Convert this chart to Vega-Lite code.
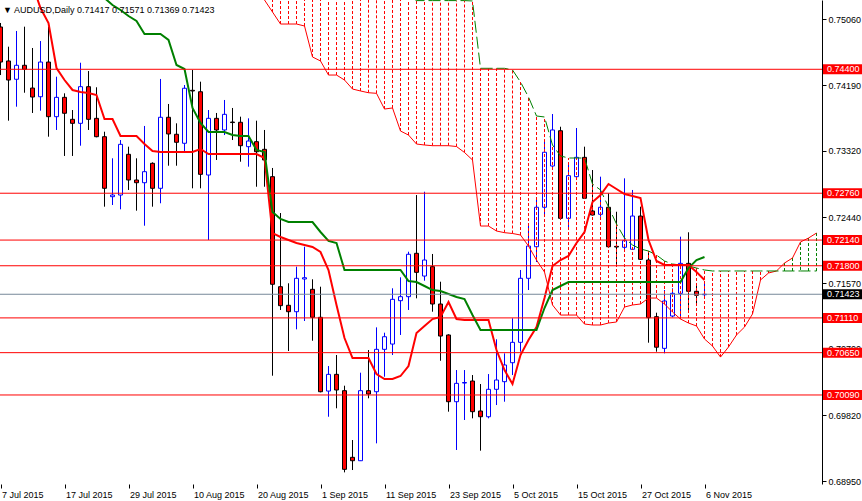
{
"$schema":"https://vega.github.io/schema/vega-lite/v6.json",
"width":822,"height":484,"autosize":"none",
"padding":{"left":0,"top":0,"right":40,"bottom":17},
"background":"#ffffff",
"title":{"text":"▼  AUDUSD,Daily  0.71417 0.71571 0.71369 0.71423","anchor":"start","frame":"group","orient":"top","offset":-22,"baseline":"alphabetic","font":"Liberation Sans","fontSize":9,"fontWeight":"normal","color":"#000000","dx":3},
"config":{"view":{"stroke":null},"axis":{"grid":false,"labelFont":"Liberation Sans","labelFontSize":9,"labelColor":"#000000","tickColor":"#000000","domainColor":"#000000","tickWidth":1,"domainWidth":1}},
"datasets":{
"bars":[
{"d":"2015-07-07","o":0.7496,"h":0.75013,"l":0.74324,"c":0.74496,"t":0.76111,"k":0.75648,"a":0.756,"b":0.75714},
{"d":"2015-07-08","o":0.7451,"h":0.74699,"l":0.7372,"c":0.74258,"t":0.75979,"k":0.75648,"a":0.756,"b":0.75714},
{"d":"2015-07-09","o":0.74268,"h":0.74907,"l":0.73905,"c":0.74453,"t":0.75846,"k":0.75648,"a":0.756,"b":0.75714},
{"d":"2015-07-10","o":0.74453,"h":0.74964,"l":0.7409,"c":0.744,"t":0.75714,"k":0.75648,"a":0.756,"b":0.75714},
{"d":"2015-07-13","o":0.74152,"h":0.74682,"l":0.73822,"c":0.74033,"t":0.75516,"k":0.75648,"a":0.756,"b":0.75714},
{"d":"2015-07-14","o":0.74037,"h":0.74774,"l":0.73852,"c":0.74496,"t":0.75211,"k":0.75648,"a":0.756,"b":0.75714},
{"d":"2015-07-15","o":0.74496,"h":0.74964,"l":0.73508,"c":0.73773,"t":0.75013,"k":0.75648,"a":0.756,"b":0.75714},
{"d":"2015-07-16","o":0.73773,"h":0.74302,"l":0.73597,"c":0.74029,"t":0.74417,"k":0.75648,"a":0.756,"b":0.75714},
{"d":"2015-07-17","o":0.74029,"h":0.74082,"l":0.73253,"c":0.73818,"t":0.74258,"k":0.75648,"a":0.756,"b":0.75714},
{"d":"2015-07-20","o":0.73738,"h":0.73861,"l":0.73253,"c":0.73685,"t":0.74126,"k":0.75648,"a":0.756,"b":0.75714},
{"d":"2015-07-21","o":0.73685,"h":0.74487,"l":0.73389,"c":0.7417,"t":0.74099,"k":0.75582,"a":0.756,"b":0.75714},
{"d":"2015-07-22","o":0.7417,"h":0.74377,"l":0.73597,"c":0.73738,"t":0.74086,"k":0.75502,"a":0.756,"b":0.75714},
{"d":"2015-07-23","o":0.73751,"h":0.74162,"l":0.735,"c":0.73508,"t":0.7406,"k":0.75423,"a":0.756,"b":0.75714},
{"d":"2015-07-24","o":0.73508,"h":0.73574,"l":0.72582,"c":0.72825,"t":0.73742,"k":0.75343,"a":0.756,"b":0.75714},
{"d":"2015-07-27","o":0.72714,"h":0.73222,"l":0.72604,"c":0.72736,"t":0.73742,"k":0.75251,"a":0.756,"b":0.75714},
{"d":"2015-07-28","o":0.72736,"h":0.73464,"l":0.72547,"c":0.73407,"t":0.73517,"k":0.75185,"a":0.756,"b":0.75714},
{"d":"2015-07-29","o":0.73275,"h":0.73376,"l":0.72803,"c":0.72935,"t":0.73517,"k":0.75105,"a":0.756,"b":0.75714},
{"d":"2015-07-30","o":0.72935,"h":0.73222,"l":0.72529,"c":0.72899,"t":0.73517,"k":0.75039,"a":0.756,"b":0.75714},
{"d":"2015-07-31","o":0.72899,"h":0.7365,"l":0.7233,"c":0.73045,"t":0.73411,"k":0.74867,"a":0.756,"b":0.75714},
{"d":"2015-08-03","o":0.73156,"h":0.73169,"l":0.72582,"c":0.72825,"t":0.73319,"k":0.74867,"a":0.756,"b":0.75714},
{"d":"2015-08-04","o":0.72825,"h":0.74272,"l":0.72627,"c":0.73765,"t":0.73305,"k":0.74867,"a":0.756,"b":0.75714},
{"d":"2015-08-05","o":0.73765,"h":0.73941,"l":0.73124,"c":0.73544,"t":0.73305,"k":0.74788,"a":0.756,"b":0.75714},
{"d":"2015-08-06","o":0.7354,"h":0.73685,"l":0.73124,"c":0.73434,"t":0.73305,"k":0.74457,"a":0.756,"b":0.75714},
{"d":"2015-08-07","o":0.73421,"h":0.74192,"l":0.73319,"c":0.74149,"t":0.73305,"k":0.74404,"a":0.756,"b":0.75714},
{"d":"2015-08-10","o":0.74122,"h":0.74391,"l":0.72825,"c":0.74113,"t":0.73305,"k":0.73888,"a":0.756,"b":0.75714},
{"d":"2015-08-11","o":0.74103,"h":0.74236,"l":0.72825,"c":0.7301,"t":0.73345,"k":0.73689,"a":0.756,"b":0.75714},
{"d":"2015-08-12","o":0.73001,"h":0.73861,"l":0.72141,"c":0.73751,"t":0.73279,"k":0.7357,"a":0.756,"b":0.75714},
{"d":"2015-08-13","o":0.73751,"h":0.73822,"l":0.732,"c":0.73597,"t":0.73279,"k":0.7357,"a":0.756,"b":0.75714},
{"d":"2015-08-14","o":0.73597,"h":0.73994,"l":0.7353,"c":0.73804,"t":0.73279,"k":0.7357,"a":0.756,"b":0.75714},
{"d":"2015-08-17","o":0.73702,"h":0.73888,"l":0.73464,"c":0.73695,"t":0.73279,"k":0.7353,"a":0.756,"b":0.75714},
{"d":"2015-08-18","o":0.73699,"h":0.73773,"l":0.73177,"c":0.73389,"t":0.73279,"k":0.73517,"a":0.756,"b":0.75714},
{"d":"2015-08-19","o":0.73376,"h":0.73751,"l":0.73111,"c":0.73451,"t":0.73279,"k":0.73517,"a":0.756,"b":0.75714},
{"d":"2015-08-20","o":0.73442,"h":0.7372,"l":0.72846,"c":0.73309,"t":0.73279,"k":0.73332,"a":0.75476,"b":0.75714},
{"d":"2015-08-21","o":0.73341,"h":0.73597,"l":0.72846,"c":0.732,"t":0.73226,"k":0.73305,"a":0.75317,"b":0.75714},
{"d":"2015-08-24","o":0.72979,"h":0.73094,"l":0.70345,"c":0.71555,"t":0.72233,"k":0.72511,"a":0.75158,"b":0.75714},
{"d":"2015-08-25","o":0.71523,"h":0.72498,"l":0.71215,"c":0.71272,"t":0.72181,"k":0.72419,"a":0.74999,"b":0.75714},
{"d":"2015-08-26","o":0.71277,"h":0.71568,"l":0.70672,"c":0.71192,"t":0.72141,"k":0.72379,"a":0.74999,"b":0.75714},
{"d":"2015-08-27","o":0.71192,"h":0.71788,"l":0.70959,"c":0.71634,"t":0.72101,"k":0.72379,"a":0.74999,"b":0.75714},
{"d":"2015-08-28","o":0.71625,"h":0.72052,"l":0.71069,"c":0.71642,"t":0.72075,"k":0.72379,"a":0.74973,"b":0.75714},
{"d":"2015-08-31","o":0.71488,"h":0.71621,"l":0.70808,"c":0.71118,"t":0.72048,"k":0.72379,"a":0.74563,"b":0.75714},
{"d":"2015-09-01","o":0.71118,"h":0.71523,"l":0.70125,"c":0.70133,"t":0.71982,"k":0.72247,"a":0.7451,"b":0.75714},
{"d":"2015-09-02","o":0.70142,"h":0.70473,"l":0.69802,"c":0.70363,"t":0.71744,"k":0.72128,"a":0.74324,"b":0.75714},
{"d":"2015-09-03","o":0.70363,"h":0.70619,"l":0.69914,"c":0.70156,"t":0.71281,"k":0.72101,"a":0.74324,"b":0.75714},
{"d":"2015-09-04","o":0.70147,"h":0.70213,"l":0.69066,"c":0.69106,"t":0.70844,"k":0.71744,"a":0.74258,"b":0.75714},
{"d":"2015-09-07","o":0.69265,"h":0.69494,"l":0.69097,"c":0.6922,"t":0.70579,"k":0.71744,"a":0.74139,"b":0.75714},
{"d":"2015-09-08","o":0.6922,"h":0.70385,"l":0.69216,"c":0.70147,"t":0.70579,"k":0.71744,"a":0.74113,"b":0.75714},
{"d":"2015-09-09","o":0.70147,"h":0.70685,"l":0.70046,"c":0.70103,"t":0.70579,"k":0.71744,"a":0.7409,"b":0.75714},
{"d":"2015-09-10","o":0.70133,"h":0.70985,"l":0.6945,"c":0.70694,"t":0.70367,"k":0.71744,"a":0.74082,"b":0.75714},
{"d":"2015-09-11","o":0.70694,"h":0.70914,"l":0.70332,"c":0.70861,"t":0.70301,"k":0.71744,"a":0.73874,"b":0.75714},
{"d":"2015-09-14","o":0.70764,"h":0.71502,"l":0.70619,"c":0.71356,"t":0.70301,"k":0.71744,"a":0.73888,"b":0.75714},
{"d":"2015-09-15","o":0.71338,"h":0.71647,"l":0.70884,"c":0.71391,"t":0.70341,"k":0.71744,"a":0.73583,"b":0.75714},
{"d":"2015-09-16","o":0.71391,"h":0.71986,"l":0.71215,"c":0.71952,"t":0.70473,"k":0.71598,"a":0.7353,"b":0.75383},
{"d":"2015-09-17","o":0.71965,"h":0.72736,"l":0.71369,"c":0.71713,"t":0.7091,"k":0.71585,"a":0.73411,"b":0.75309},
{"d":"2015-09-18","o":0.71664,"h":0.7278,"l":0.71602,"c":0.71876,"t":0.71003,"k":0.71532,"a":0.73398,"b":0.75309},
{"d":"2015-09-21","o":0.71788,"h":0.71956,"l":0.71192,"c":0.71294,"t":0.71095,"k":0.71479,"a":0.73389,"b":0.75309},
{"d":"2015-09-22","o":0.71294,"h":0.71589,"l":0.70543,"c":0.7087,"t":0.71122,"k":0.71466,"a":0.73389,"b":0.75309},
{"d":"2015-09-23","o":0.70884,"h":0.70893,"l":0.69869,"c":0.70001,"t":0.7132,"k":0.71426,"a":0.73389,"b":0.75309},
{"d":"2015-09-24","o":0.70001,"h":0.7042,"l":0.69362,"c":0.70244,"t":0.71095,"k":0.71386,"a":0.73378,"b":0.75309},
{"d":"2015-09-25","o":0.70248,"h":0.7042,"l":0.69759,"c":0.70255,"t":0.71082,"k":0.7136,"a":0.73299,"b":0.75309},
{"d":"2015-09-28","o":0.70275,"h":0.70354,"l":0.69781,"c":0.69869,"t":0.71082,"k":0.71148,"a":0.732,"b":0.75304},
{"d":"2015-09-29","o":0.69878,"h":0.70235,"l":0.69353,"c":0.69802,"t":0.71082,"k":0.7095,"a":0.72326,"b":0.74413},
{"d":"2015-09-30","o":0.69802,"h":0.70367,"l":0.69781,"c":0.70165,"t":0.71082,"k":0.7095,"a":0.72326,"b":0.74413},
{"d":"2015-10-01","o":0.70165,"h":0.70827,"l":0.69957,"c":0.70288,"t":0.70685,"k":0.7095,"a":0.7226,"b":0.74413},
{"d":"2015-10-02","o":0.70266,"h":0.70641,"l":0.70001,"c":0.70487,"t":0.7042,"k":0.7095,"a":0.72238,"b":0.74413},
{"d":"2015-10-05","o":0.70517,"h":0.71105,"l":0.70354,"c":0.70787,"t":0.70235,"k":0.7095,"a":0.72227,"b":0.74391},
{"d":"2015-10-06","o":0.70787,"h":0.71744,"l":0.70663,"c":0.71634,"t":0.70619,"k":0.7095,"a":0.72207,"b":0.74232},
{"d":"2015-10-07","o":0.71634,"h":0.72362,"l":0.71479,"c":0.72061,"t":0.70817,"k":0.7095,"a":0.72061,"b":0.74033},
{"d":"2015-10-08","o":0.72052,"h":0.72679,"l":0.7185,"c":0.72574,"t":0.70989,"k":0.7095,"a":0.71876,"b":0.73782},
{"d":"2015-10-09","o":0.72574,"h":0.73442,"l":0.72472,"c":0.73302,"t":0.71373,"k":0.71241,"a":0.71717,"b":0.73769},
{"d":"2015-10-12","o":0.7312,"h":0.73808,"l":0.73067,"c":0.73597,"t":0.71797,"k":0.71479,"a":0.71281,"b":0.73398},
{"d":"2015-10-13","o":0.73587,"h":0.7364,"l":0.72406,"c":0.72428,"t":0.71876,"k":0.71532,"a":0.71148,"b":0.73253},
{"d":"2015-10-14","o":0.72428,"h":0.73156,"l":0.72273,"c":0.72992,"t":0.71929,"k":0.71585,"a":0.71148,"b":0.73226},
{"d":"2015-10-15","o":0.72979,"h":0.73623,"l":0.72935,"c":0.73235,"t":0.72101,"k":0.71585,"a":0.71148,"b":0.73226},
{"d":"2015-10-16","o":0.73235,"h":0.73376,"l":0.72683,"c":0.72693,"t":0.72247,"k":0.71585,"a":0.71029,"b":0.73226},
{"d":"2015-10-19","o":0.72525,"h":0.73067,"l":0.72465,"c":0.72472,"t":0.72644,"k":0.71585,"a":0.71016,"b":0.72882},
{"d":"2015-10-20","o":0.72481,"h":0.72979,"l":0.72449,"c":0.72574,"t":0.72736,"k":0.71585,"a":0.71016,"b":0.72803},
{"d":"2015-10-21","o":0.72574,"h":0.72759,"l":0.72048,"c":0.72052,"t":0.72882,"k":0.71585,"a":0.71042,"b":0.72578},
{"d":"2015-10-22","o":0.72057,"h":0.72515,"l":0.7181,"c":0.72048,"t":0.72816,"k":0.71585,"a":0.71056,"b":0.72353},
{"d":"2015-10-23","o":0.72044,"h":0.72957,"l":0.71986,"c":0.72132,"t":0.7275,"k":0.71585,"a":0.71254,"b":0.72167},
{"d":"2015-10-26","o":0.72018,"h":0.72803,"l":0.72009,"c":0.72458,"t":0.72723,"k":0.71585,"a":0.71281,"b":0.72075},
{"d":"2015-10-27","o":0.72458,"h":0.72582,"l":0.71876,"c":0.71885,"t":0.72697,"k":0.71585,"a":0.71294,"b":0.72022},
{"d":"2015-10-28","o":0.71876,"h":0.71982,"l":0.70782,"c":0.71113,"t":0.72141,"k":0.71585,"a":0.71373,"b":0.71995},
{"d":"2015-10-29","o":0.71126,"h":0.71179,"l":0.70663,"c":0.70722,"t":0.71863,"k":0.71585,"a":0.71373,"b":0.71942},
{"d":"2015-10-30","o":0.70707,"h":0.71479,"l":0.70641,"c":0.71334,"t":0.7181,"k":0.71585,"a":0.71294,"b":0.71863},
{"d":"2015-11-02","o":0.71135,"h":0.71502,"l":0.71118,"c":0.71435,"t":0.7181,"k":0.71585,"a":0.71188,"b":0.71823},
{"d":"2015-11-03","o":0.71435,"h":0.72185,"l":0.71105,"c":0.71832,"t":0.7181,"k":0.71585,"a":0.71095,"b":0.7181},
{"d":"2015-11-04","o":0.71832,"h":0.72243,"l":0.71215,"c":0.71462,"t":0.7181,"k":0.7177,"a":0.71042,"b":0.71797},
{"d":"2015-11-05","o":0.71462,"h":0.71572,"l":0.71307,"c":0.7141,"t":0.71717,"k":0.71876,"a":0.71003,"b":0.7177},
{"d":"2015-11-06","o":0.71417,"h":0.71571,"l":0.71369,"c":0.71423,"t":0.71612,"k":0.71916,"a":0.70831,"b":0.71744},
{"d":"2015-11-09","a":0.70738,"b":0.71731},
{"d":"2015-11-10","a":0.70592,"b":0.71731},
{"d":"2015-11-11","a":0.70725,"b":0.71731},
{"d":"2015-11-12","a":0.70884,"b":0.71731},
{"d":"2015-11-13","a":0.70989,"b":0.71731},
{"d":"2015-11-16","a":0.71162,"b":0.71731},
{"d":"2015-11-17","a":0.71612,"b":0.71731},
{"d":"2015-11-18","a":0.71704,"b":0.71731},
{"d":"2015-11-19","a":0.71731,"b":0.71731},
{"d":"2015-11-20","a":0.71836,"b":0.71731},
{"d":"2015-11-23","a":0.71903,"b":0.71731},
{"d":"2015-11-24","a":0.72115,"b":0.71731},
{"d":"2015-11-25","a":0.72167,"b":0.71731},
{"d":"2015-11-26","a":0.72233,"b":0.71731}
],
"levels":[
{"p":0.744,"kind":"level"},{"p":0.7276,"kind":"level"},{"p":0.7214,"kind":"level"},{"p":0.718,"kind":"level"},{"p":0.7111,"kind":"level"},{"p":0.7065,"kind":"level"},{"p":0.7009,"kind":"level"},{"p":0.71423,"kind":"current"}
]
},
"layer":[
{"data":{"name":"bars"},"transform":[{"filter":"isValid(datum.o)"}],
 "mark":{"type":"rule","clip":true,"strokeWidth":1},
 "encoding":{
  "x":{"field":"d","type":"ordinal","title":null,"scale":{"type":"point","range":[0.5,816.5],"padding":0},"axis":{"values":["2015-07-07","2015-07-17","2015-07-29","2015-08-10","2015-08-20","2015-09-01","2015-09-11","2015-09-23","2015-10-05","2015-10-15","2015-10-27","2015-11-06"],"labelExpr":"utcFormat(toDate(datum.value), '%-d %b %Y')","labelAlign":"left","labelBaseline":"top","labelPadding":2,"labelOffset":1,"labelAngle":0,"tickSize":4,"domain":false,"labelFlush":false,"labelOverlap":false}},
  "y":{"field":"l","type":"quantitative","title":null,"scale":{"domain":[0.68912,0.75317],"nice":false,"zero":false},"axis":{"orient":"right","values":[0.7506,0.7463,0.7419,0.7375,0.7332,0.7288,0.7244,0.7201,0.7157,0.7113,0.707,0.7026,0.6982,0.6939,0.6895],"format":".5f","tickSize":4,"labelPadding":2,"labelFlush":false,"labelOverlap":false}},
  "y2":{"field":"h"},
  "color":{"condition":{"test":"datum.c >= datum.o","value":"#0000FF"},"value":"#000000"}}},
{"data":{"name":"bars"},"transform":[{"filter":"isValid(datum.o)"}],
 "mark":{"type":"bar","clip":true,"width":4,"strokeWidth":1},
 "encoding":{
  "x":{"field":"d","type":"ordinal","title":null,"scale":{"type":"point","range":[0.5,816.5],"padding":0}},
  "y":{"field":"o","type":"quantitative","title":null,"scale":{"domain":[0.68912,0.75317],"nice":false,"zero":false}},
  "y2":{"field":"c"},
  "fill":{"condition":{"test":"datum.c >= datum.o","value":"#FFFFFF"},"value":"#FF0000"},
  "stroke":{"condition":{"test":"datum.c >= datum.o","value":"#0000FF"},"value":"#000000"}}},
{"data":{"name":"bars"},
 "mark":{"type":"rule","clip":true,"strokeWidth":1,"strokeDash":[3,2]},
 "encoding":{
  "x":{"field":"d","type":"ordinal","title":null,"scale":{"type":"point","range":[0.5,816.5],"padding":0}},
  "y":{"field":"a","type":"quantitative","title":null,"scale":{"domain":[0.68912,0.75317],"nice":false,"zero":false}},
  "y2":{"field":"b"},
  "color":{"condition":{"test":"datum.a > datum.b","value":"#008000"},"value":"#FF0000"}}},
{"data":{"name":"bars"},
 "mark":{"type":"line","clip":true,"strokeWidth":1,"color":"#FF0000"},
 "encoding":{
  "x":{"field":"d","type":"ordinal","title":null,"scale":{"type":"point","range":[0.5,816.5],"padding":0}},
  "y":{"field":"a","type":"quantitative","title":null,"scale":{"domain":[0.68912,0.75317],"nice":false,"zero":false}}}},
{"data":{"name":"bars"},
 "mark":{"type":"line","clip":true,"strokeWidth":1,"color":"#008000","strokeDash":[12,4]},
 "encoding":{
  "x":{"field":"d","type":"ordinal","title":null,"scale":{"type":"point","range":[0.5,816.5],"padding":0}},
  "y":{"field":"b","type":"quantitative","title":null,"scale":{"domain":[0.68912,0.75317],"nice":false,"zero":false}}}},
{"data":{"name":"bars"},"transform":[{"filter":"isValid(datum.t)"}],
 "mark":{"type":"line","clip":true,"strokeWidth":2,"color":"#FF0000"},
 "encoding":{
  "x":{"field":"d","type":"ordinal","title":null,"scale":{"type":"point","range":[0.5,816.5],"padding":0}},
  "y":{"field":"t","type":"quantitative","title":null,"scale":{"domain":[0.68912,0.75317],"nice":false,"zero":false}}}},
{"data":{"name":"bars"},"transform":[{"filter":"isValid(datum.k)"}],
 "mark":{"type":"line","clip":true,"strokeWidth":2,"color":"#008000"},
 "encoding":{
  "x":{"field":"d","type":"ordinal","title":null,"scale":{"type":"point","range":[0.5,816.5],"padding":0}},
  "y":{"field":"k","type":"quantitative","title":null,"scale":{"domain":[0.68912,0.75317],"nice":false,"zero":false}}}},
{"data":{"name":"levels"},
 "mark":{"type":"rule","clip":true,"strokeWidth":1},
 "encoding":{
  "y":{"field":"p","type":"quantitative","title":null,"scale":{"domain":[0.68912,0.75317],"nice":false,"zero":false}},
  "color":{"condition":{"test":"datum.kind === 'current'","value":"#778899"},"value":"#FF0000"}}},
{"mark":{"type":"rule","color":"#000000","strokeWidth":1},
 "encoding":{"y":{"datum":0.68905,"type":"quantitative","scale":{"domain":[0.68912,0.75317],"nice":false,"zero":false}}}},
{"data":{"name":"levels"},
 "mark":{"type":"rect","xOffset":1,"x2Offset":40,"yOffset":-5,"y2Offset":5},
 "encoding":{
  "x":{"value":"width"},"x2":{"value":"width"},
  "y":{"field":"p","type":"quantitative","title":null,"scale":{"domain":[0.68912,0.75317],"nice":false,"zero":false}},
  "y2":{"field":"p"},
  "fill":{"condition":{"test":"datum.kind === 'current'","value":"#000000"},"value":"#FF0000"}}},
{"data":{"name":"levels"},
 "mark":{"type":"text","align":"left","baseline":"middle","dx":5,"font":"Liberation Sans","fontSize":9,"fill":"#FFFFFF"},
 "encoding":{
  "x":{"value":"width"},
  "y":{"field":"p","type":"quantitative","title":null,"scale":{"domain":[0.68912,0.75317],"nice":false,"zero":false}},
  "text":{"field":"p","type":"quantitative","format":".5f"}}}
]
}
